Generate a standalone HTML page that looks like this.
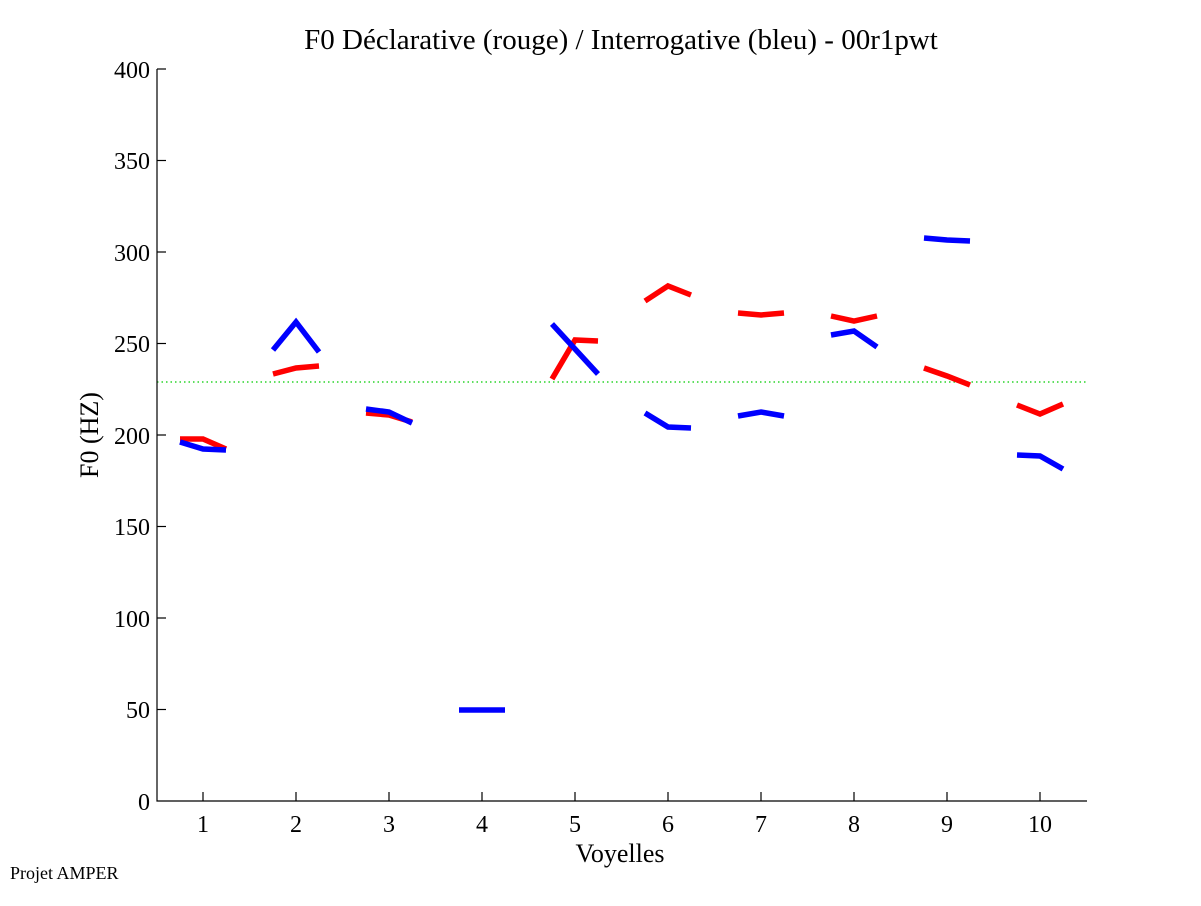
<!DOCTYPE html>
<html><head><meta charset="utf-8"><style>body{margin:0;background:#fff}</style></head><body>
<svg width="1201" height="901" xmlns="http://www.w3.org/2000/svg" font-family="Liberation Serif, serif">
<rect width="1201" height="901" fill="#fff"/>
<text x="621" y="49" font-size="29" text-anchor="middle">F0 Déclarative (rouge) / Interrogative (bleu) - 00r1pwt</text>
<line x1="157" y1="382" x2="1087" y2="382" stroke="#00cc00" stroke-width="1.2" stroke-dasharray="1.5,3"/>
<g stroke="#000" stroke-width="1.2" fill="none">
<polyline points="157,69 157,801 1087,801"/>
<line x1="157" y1="69" x2="166" y2="69"/><line x1="157" y1="160.5" x2="166" y2="160.5"/><line x1="157" y1="252" x2="166" y2="252"/><line x1="157" y1="343.5" x2="166" y2="343.5"/><line x1="157" y1="435" x2="166" y2="435"/><line x1="157" y1="526.5" x2="166" y2="526.5"/><line x1="157" y1="618" x2="166" y2="618"/><line x1="157" y1="709.5" x2="166" y2="709.5"/>
<line x1="203" y1="801" x2="203" y2="792"/><line x1="296" y1="801" x2="296" y2="792"/><line x1="389" y1="801" x2="389" y2="792"/><line x1="482" y1="801" x2="482" y2="792"/><line x1="575" y1="801" x2="575" y2="792"/><line x1="668" y1="801" x2="668" y2="792"/><line x1="761" y1="801" x2="761" y2="792"/><line x1="854" y1="801" x2="854" y2="792"/><line x1="947" y1="801" x2="947" y2="792"/><line x1="1040" y1="801" x2="1040" y2="792"/>
</g>
<g font-size="24" text-anchor="end">
<text x="150" y="78">400</text><text x="150" y="169">350</text><text x="150" y="261">300</text><text x="150" y="352">250</text><text x="150" y="444">200</text><text x="150" y="535">150</text><text x="150" y="627">100</text><text x="150" y="718">50</text><text x="150" y="810">0</text>
</g>
<g font-size="24" text-anchor="middle">
<text x="203" y="832">1</text><text x="296" y="832">2</text><text x="389" y="832">3</text><text x="482" y="832">4</text><text x="575" y="832">5</text><text x="668" y="832">6</text><text x="761" y="832">7</text><text x="854" y="832">8</text><text x="947" y="832">9</text><text x="1040" y="832">10</text>
<text x="620" y="862" font-size="26">Voyelles</text>
<text transform="translate(98,435) rotate(-90)" font-size="26">F0 (HZ)</text>
</g>
<text x="10" y="879" font-size="18">Projet AMPER</text>
<g stroke="#f00" stroke-width="5.5" fill="none">
<polyline points="180,439 203,439 226,449"/>
<polyline points="273,374 296,368 319,366"/>
<polyline points="366,413 389,415 412,422"/>
<polyline points="552,379 575,340 598,341"/>
<polyline points="645,301 668,286 691,295"/>
<polyline points="738,313 761,315 784,313"/>
<polyline points="831,316 854,321 877,316"/>
<polyline points="924,368 947,376 970,385"/>
<polyline points="1017,405 1040,414 1063,404"/>
</g>
<g stroke="#00f" stroke-width="5.5" fill="none">
<polyline points="180,442 203,449 226,450"/>
<polyline points="273,350 296,322 319,352"/>
<polyline points="366,409 389,412 412,423"/>
<polyline points="459,710 482,710 505,710"/>
<polyline points="552,324 575,349 598,374"/>
<polyline points="645,413 668,427 691,428"/>
<polyline points="738,416 761,412 784,416"/>
<polyline points="831,335 854,331 877,347"/>
<polyline points="924,238 947,240 970,241"/>
<polyline points="1017,455 1040,456 1063,469"/>
</g>
</svg>
</body></html>
